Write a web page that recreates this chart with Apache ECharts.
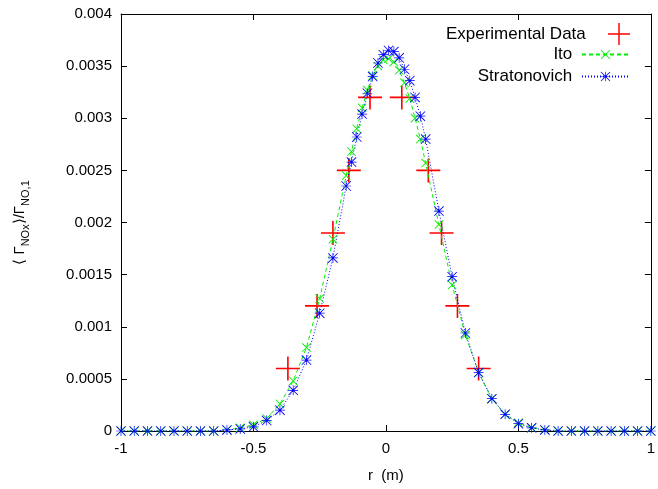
<!DOCTYPE html>
<html>
<head>
<meta charset="utf-8" />
<title>NOx profile</title>
<script src="https://cdn.jsdelivr.net/npm/echarts@6/dist/echarts.min.js"></script>
<style>
    body, html {
        margin: 0;
        padding: 0;
        background: #fff;
    }

    #main {
        width: 658px;
        height: 489px;
    }
</style>
</head>
<body>
<div id="main"></div>
<script type="text/javascript">
    // radial positions of the simulated points (finer near the centre)
    var rGrid = [-1, -0.95, -0.9, -0.85, -0.8, -0.75, -0.7, -0.65, -0.6, -0.55, -0.5, -0.45, -0.4, -0.35, -0.3, -0.25, -0.2,
        -0.15, -0.13, -0.11, -0.09, -0.07, -0.05, -0.03, -0.01, 0.01, 0.03, 0.05, 0.07, 0.09, 0.11, 0.13, 0.15,
        0.2, 0.25, 0.3, 0.35, 0.4, 0.45, 0.5, 0.55, 0.6, 0.65, 0.7, 0.75, 0.8, 0.85, 0.9, 0.95, 1];

    var itoVals = [0, 0, 0, 0, 0, 0, 0, 0, 0.00001, 0.00003, 0.00006, 0.00012, 0.00026, 0.00048, 0.0008, 0.00127, 0.00184,
        0.00245, 0.00268, 0.0029, 0.0031, 0.00327, 0.00341, 0.0035, 0.00356, 0.00357, 0.00354, 0.00346, 0.00334, 0.00319, 0.003, 0.0028, 0.00257,
        0.00198, 0.0014, 0.00092, 0.00056, 0.00031, 0.00016, 0.00008, 0.00003, 0.00001, 0, 0, 0, 0, 0, 0, 0, 0];

    var stratVals = [0, 0, 0, 0, 0, 0, 0, 0, 0.00001, 0.00002, 0.00004, 0.0001, 0.0002, 0.00039, 0.00068, 0.00113, 0.00166,
        0.00235, 0.00258, 0.00282, 0.00304, 0.00324, 0.0034, 0.00353, 0.00361, 0.00365, 0.00364, 0.00358, 0.00347, 0.00336, 0.0032, 0.00302, 0.0028,
        0.00211, 0.00148, 0.00094, 0.00056, 0.00031, 0.00016, 0.00007, 0.00003, 0.00001, 0, 0, 0, 0, 0, 0, 0, 0];

    // measured points
    var expR = [-0.37, -0.26, -0.2, -0.14, -0.06, 0.06, 0.16, 0.21, 0.27, 0.35];
    var expVals = [0.0006, 0.0012, 0.0019, 0.0025, 0.0032, 0.0032, 0.0025, 0.0019, 0.0012, 0.0006];

    // tick labels
    var xTicks = [-1, -0.5, 0, 0.5, 1];
    var xTickLabels = ['-1', '-0.5', '0', '0.5', '1'];
    var yTicks = [0, 0.0005, 0.001, 0.0015, 0.002, 0.0025, 0.003, 0.0035, 0.004];
    var yTickLabels = ['0', '0.0005', '0.001', '0.0015', '0.002', '0.0025', '0.003', '0.0035', '0.004'];

    function pairs(xs, ys) {
        var out = [];
        for (var i = 0; i < xs.length; i++) out.push([xs[i], ys[i]]);
        return out;
    }
    function tickLabel(ticks, labels) {
        return function (v) {
            for (var i = 0; i < ticks.length; i++) {
                if (Math.abs(ticks[i] - v) < 1e-9) return labels[i];
            }
            return '';
        };
    }

    // gnuplot-like point shapes
    var plusPath = 'path://M11.2,0H12.8V11.2H24V12.8H12.8V24H11.2V12.8H0V11.2H11.2Z';
    var xPath = 'path://M0,1.4L1.4,0L20,18.6L18.6,20Z M18.6,0L20,1.4L1.4,20L0,18.6Z';
    var starPath = 'path://M9.3,0H10.7V9.3H20V10.7H10.7V20H9.3V10.7H0V9.3H9.3Z M0,1.2L1.2,0L20,18.8L18.8,20Z M18.8,0L20,1.2L1.2,20L0,18.8Z';

    var font = 'Liberation Sans, Arial, sans-serif';
    var chart = echarts.init(document.getElementById('main'));

    var tickStyle = { inside: true, length: 6, lineStyle: { color: '#000', width: 1 } };
    var lineStyle = { onZero: false, lineStyle: { color: '#000', width: 1 } };
    var legendText = { fontFamily: font, fontSize: 17, color: '#000' };
    // small gap between key text and its sample
    var keyName = function (name) { return name + '\u00a0'; };

    var option = {
        animation: false,
        backgroundColor: '#fff',
        grid: { left: 121, right: 2, top: 14, bottom: 58 },
        legend: [{
            data: ['Experimental Data'],
            orient: 'vertical',
            right: 23,
            top: 18,
            align: 'right',
            itemWidth: 47,
            itemHeight: 22,
            selectedMode: false,
            formatter: keyName,
            textStyle: legendText
        }, {
            data: ['Ito', 'Stratonovich'],
            orient: 'vertical',
            right: 23,
            top: 41,
            align: 'right',
            itemWidth: 47,
            itemHeight: 12,
            itemGap: 5,
            selectedMode: false,
            formatter: keyName,
            textStyle: legendText
        }],
        xAxis: [{
            type: 'value',
            min: xTicks[0],
            max: xTicks[xTicks.length - 1],
            interval: 0.5,
            name: 'r  (m)',
            nameLocation: 'middle',
            nameGap: 37,
            nameTextStyle: { fontFamily: font, fontSize: 15, color: '#000' },
            axisLine: lineStyle,
            axisTick: tickStyle,
            splitLine: { show: false },
            axisLabel: { fontFamily: font, fontSize: 15, color: '#000', margin: 10, formatter: tickLabel(xTicks, xTickLabels) }
        }, {
            type: 'value',
            position: 'top',
            min: -1,
            max: 1,
            interval: 0.5,
            axisLine: lineStyle,
            axisTick: tickStyle,
            splitLine: { show: false },
            axisLabel: { show: false }
        }],
        yAxis: [{
            type: 'value',
            min: yTicks[0],
            max: yTicks[yTicks.length - 1],
            interval: 0.0005,
            name: '{n|⟨ Γ}{s|NOx}{n|⟩/Γ}{s|NO,1}',
            nameLocation: 'middle',
            nameRotate: 90,
            nameGap: 90,
            nameTextStyle: {
                color: '#000',
                rich: {
                    n: { fontFamily: font, fontSize: 15, color: '#000', lineHeight: 22, verticalAlign: 'middle' },
                    s: { fontFamily: font, fontSize: 11, color: '#000', lineHeight: 22, verticalAlign: 'bottom' }
                }
            },
            axisLine: lineStyle,
            axisTick: tickStyle,
            splitLine: { show: false },
            axisLabel: { fontFamily: font, fontSize: 15, color: '#000', margin: 9, formatter: tickLabel(yTicks, yTickLabels) }
        }, {
            type: 'value',
            position: 'right',
            min: 0,
            max: 0.004,
            interval: 0.0005,
            axisLine: lineStyle,
            axisTick: tickStyle,
            splitLine: { show: false },
            axisLabel: { show: false }
        }],
        series: [{
            name: 'Experimental Data',
            type: 'scatter',
            data: pairs(expR, expVals),
            symbol: plusPath,
            symbolSize: 24,
            itemStyle: { color: '#ff0000', opacity: 1 }
        }, {
            name: 'Ito',
            type: 'line',
            data: pairs(rGrid, itoVals),
            symbol: xPath,
            symbolSize: 9,
            showSymbol: true,
            itemStyle: { color: '#00ee00' },
            lineStyle: { color: '#00ee00', width: 1, type: [4, 3] }
        }, {
            name: 'Stratonovich',
            type: 'line',
            data: pairs(rGrid, stratVals),
            symbol: starPath,
            symbolSize: 10,
            showSymbol: true,
            itemStyle: { color: '#0000ff' },
            lineStyle: { color: '#0000ff', width: 1, type: [1, 2] }
        }]
    };

    chart.setOption(option);
</script>
</body>
</html>
